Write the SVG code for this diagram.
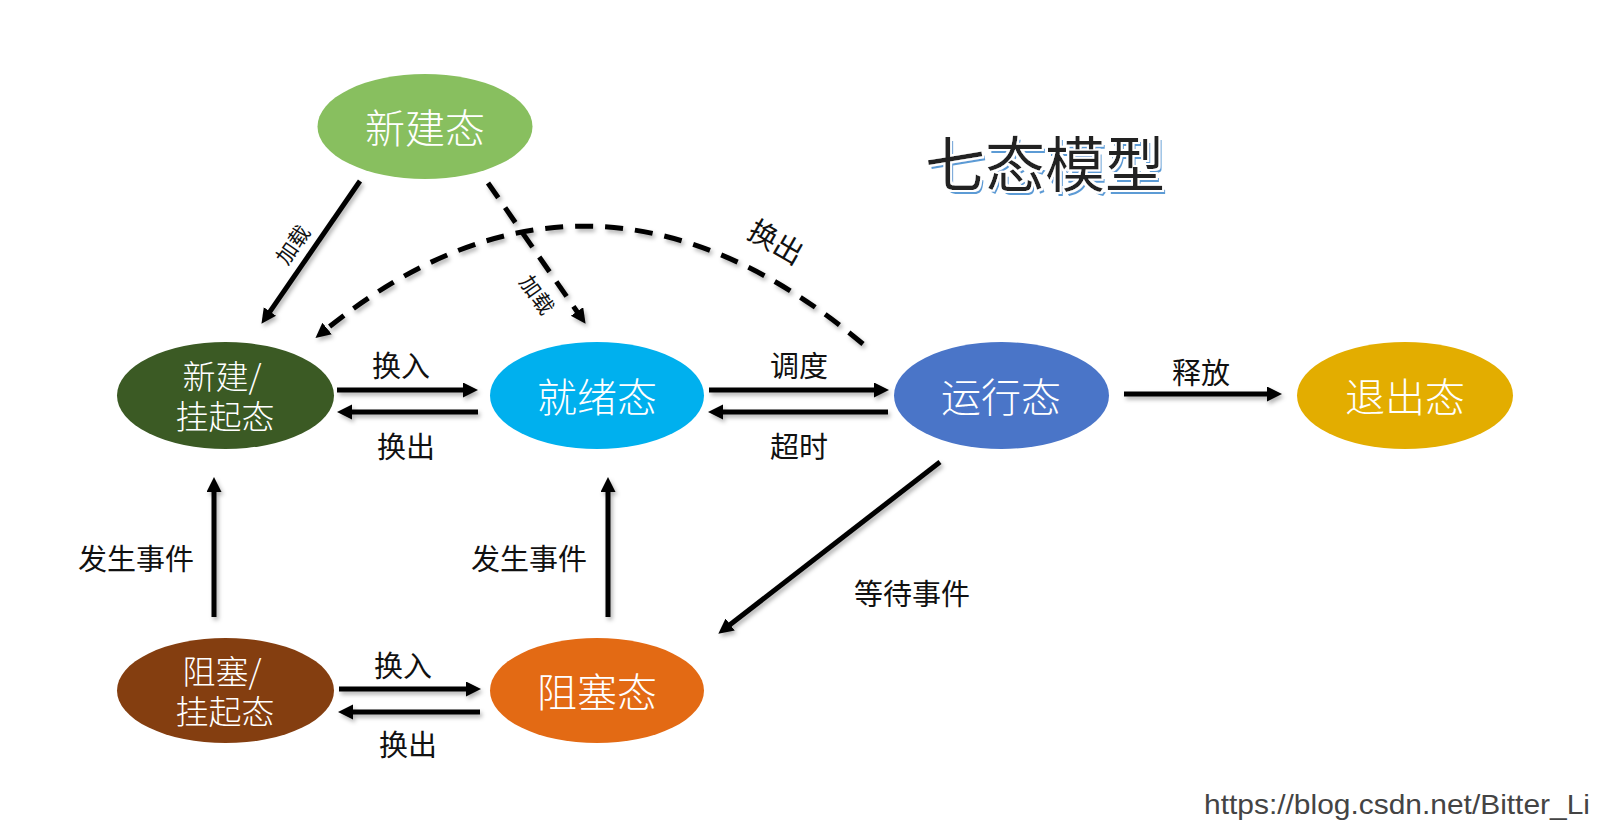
<svg xmlns="http://www.w3.org/2000/svg" width="1600" height="832" viewBox="0 0 1600 832">
<style>
.node-text{font-family:"Noto Sans CJK SC","Noto Sans",sans-serif;font-weight:300;fill:#ffffff;text-anchor:middle;dominant-baseline:central}
.big{font-size:40px}
.two{font-size:33px}
.lbl{font-family:"Noto Sans CJK SC","Noto Sans",sans-serif;font-size:29px;fill:#111;text-anchor:middle;dominant-baseline:central}
.small{font-size:21px}
.edge{fill:none;stroke:#000;stroke-width:5;marker-end:url(#ah)}
.dash{stroke-dasharray:18 12}
</style>
<defs>
<marker id="ah" markerUnits="userSpaceOnUse" markerWidth="16" markerHeight="16" refX="4" refY="7.5" orient="auto">
<path d="M0,0 L15,7.5 L0,15 Z" fill="#000"/>
</marker>
<filter id="sh" x="-10%" y="-10%" width="130%" height="130%">
<feDropShadow dx="2" dy="3" stdDeviation="2" flood-color="#000" flood-opacity="0.3"/>
</filter>
<filter id="titlefx" x="-10%" y="-20%" width="120%" height="150%">
<feOffset in="SourceAlpha" dx="3" dy="4" result="off"/>
<feFlood flood-color="#5B9BD5"/>
<feComposite in2="off" operator="in" result="blue"/>
<feMorphology in="SourceAlpha" operator="dilate" radius="1.5" result="dil"/>
<feFlood flood-color="#ffffff"/>
<feComposite in2="dil" operator="in" result="white"/>
<feMerge><feMergeNode in="blue"/><feMergeNode in="white"/><feMergeNode in="SourceGraphic"/></feMerge>
</filter>
</defs>
<rect width="1600" height="832" fill="#fff"/>

<g id="title">
<text x="1045" y="160" font-family="Noto Sans CJK SC,sans-serif" font-weight="400" font-size="60" fill="#222" text-anchor="middle" dominant-baseline="central" filter="url(#titlefx)">七态模型</text>
</g>

<g id="connectors" filter="url(#sh)">
<path class="edge" d="M360,181 L267.7,314.8"/>
<path class="edge dash" d="M488,183 L579.3,314.8"/>
<path class="edge dash" d="M863,344 Q590,115 324,331"/>
<path class="edge" d="M337,390 L467,390"/>
<path class="edge" d="M478,412 L348,412"/>
<path class="edge" d="M709,390 L878,390"/>
<path class="edge" d="M888,412 L719,412"/>
<path class="edge" d="M1124,394 L1271,394"/>
<path class="edge" d="M940,462 L727,627"/>
<path class="edge" d="M214,617 L214,488"/>
<path class="edge" d="M608,617 L608,488"/>
<path class="edge" d="M339,689 L470,689"/>
<path class="edge" d="M480,712 L349,712"/>
</g>

<g id="labels">
<text class="lbl small" transform="translate(292,244) rotate(-55)">加载</text>
<text class="lbl small" transform="translate(538,294) rotate(55)">加载</text>
<text class="lbl" transform="translate(777,240) rotate(30)">换出</text>
<text class="lbl" x="401" y="364">换入</text>
<text class="lbl" x="406" y="445">换出</text>
<text class="lbl" x="799" y="364">调度</text>
<text class="lbl" x="799" y="445">超时</text>
<text class="lbl" x="1201" y="371">释放</text>
<text class="lbl" x="912" y="592">等待事件</text>
<text class="lbl" x="136" y="557">发生事件</text>
<text class="lbl" x="529" y="557">发生事件</text>
<text class="lbl" x="403" y="664">换入</text>
<text class="lbl" x="408" y="743">换出</text>
</g>

<g id="node-new">
<ellipse cx="425" cy="126.5" rx="107.5" ry="52.5" fill="#88BF5F"/>
<text class="node-text big" x="425" y="126">新建态</text>
</g>
<g id="node-new-suspend">
<ellipse cx="225.5" cy="395.5" rx="108.5" ry="53.5" fill="#3B5A24"/>
<text class="node-text two" x="225" y="395"><tspan x="222" y="375">新建/</tspan><tspan x="225" y="415">挂起态</tspan></text>
</g>
<g id="node-ready">
<ellipse cx="597" cy="395.5" rx="107" ry="53.5" fill="#00B0EE"/>
<text class="node-text big" x="597" y="395">就绪态</text>
</g>
<g id="node-running">
<ellipse cx="1001.5" cy="395.5" rx="107.5" ry="53.5" fill="#4A75C8"/>
<text class="node-text big" x="1001" y="395">运行态</text>
</g>
<g id="node-exit">
<ellipse cx="1405" cy="395.5" rx="108" ry="53.5" fill="#E3AD00"/>
<text class="node-text big" x="1405" y="395">退出态</text>
</g>
<g id="node-blocked-suspend">
<ellipse cx="225.5" cy="690.5" rx="108.5" ry="52.5" fill="#843E10"/>
<text class="node-text two" x="225" y="690"><tspan x="222" y="670">阻塞/</tspan><tspan x="225" y="710">挂起态</tspan></text>
</g>
<g id="node-blocked">
<ellipse cx="597" cy="690.5" rx="107" ry="52.5" fill="#E36A14"/>
<text class="node-text big" x="597" y="690">阻塞态</text>
</g>

<text x="1204" y="814" font-family="Liberation Sans,Arial,sans-serif" font-size="28" fill="#444" textLength="386" lengthAdjust="spacingAndGlyphs">https://blog.csdn.net/Bitter_Li</text>
</svg>
